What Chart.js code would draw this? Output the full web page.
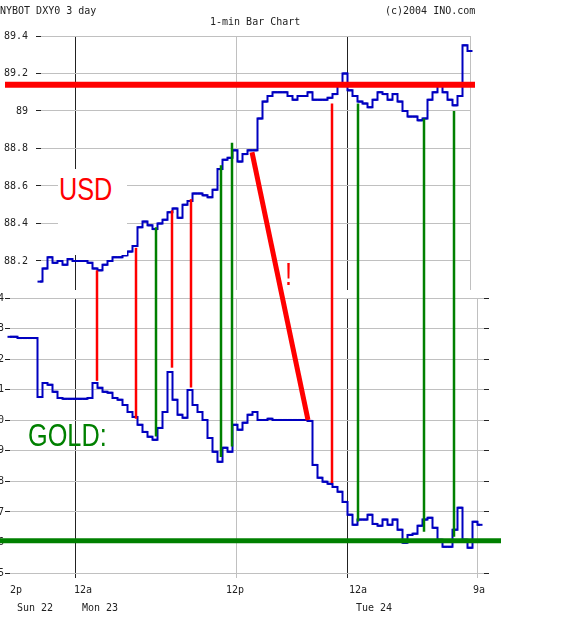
<!DOCTYPE html>
<html>
<head>
<meta charset="utf-8">
<script src="https://cdn.jsdelivr.net/npm/chart.js@4.4.0/dist/chart.umd.min.js"></script>
<style>
  html, body { margin: 0; padding: 0; background: #fff; }
  #wrap { position: relative; width: 576px; height: 633px; overflow: hidden; }
  canvas { position: absolute; left: 0; top: 0; }
  .txt { position: absolute; white-space: nowrap; font: 10px/12px "DejaVu Sans Mono", monospace; color: #222; }
  .big { position: absolute; white-space: nowrap; font: 32px/32px "Liberation Sans", Arial, sans-serif; transform: scaleX(0.79); transform-origin: 0 0; }
</style>
</head>
<body>
<div id="wrap">
  <canvas id="goldChart" width="576" height="633"></canvas>
  <canvas id="usdChart" width="576" height="633"></canvas>
  <div class="txt" style="left:0;top:5px">NYBOT DXY0 3 day</div>
  <div class="txt" style="left:210px;top:16px">1-min Bar Chart</div>
  <div class="txt" style="left:385px;top:5px">(c)2004 INO.com</div>
  <div style="position:absolute;left:58px;top:169px;width:69px;height:86px;background:#fff"></div>
  <div class="big" style="left:59px;top:173px;color:#ff0000">USD</div>
  <div class="big" style="left:28px;top:419px;color:#008000">GOLD:</div>
  <div class="big" style="left:285px;top:258px;color:#ff0000">!</div>
</div>
<script>
// x axis = bar slot index (one slot every few 1-min bars, trading gaps removed)
const usdStart = 5;
const usdClose = [88.14, 88.09, 88.16, 88.22, 88.19, 88.20, 88.18, 88.21, 88.20, 88.20,
  88.20, 88.19, 88.16, 88.15, 88.18, 88.20, 88.22, 88.22, 88.23, 88.25,
  88.28, 88.38, 88.41, 88.39, 88.37, 88.40, 88.42, 88.46, 88.48, 88.43,
  88.50, 88.52, 88.56, 88.56, 88.55, 88.54, 88.58, 88.69, 88.74, 88.75,
  88.79, 88.73, 88.77, 88.79, 88.79, 88.96, 89.05, 89.08, 89.10, 89.10,
  89.10, 89.08, 89.06, 89.08, 89.08, 89.10, 89.06, 89.06, 89.06, 89.07,
  89.09, 89.14, 89.20, 89.11, 89.08, 89.05, 89.04, 89.02, 89.06, 89.10,
  89.09, 89.06, 89.09, 89.05, 89.00, 88.97, 88.97, 88.95, 88.96, 89.06,
  89.10, 89.14, 89.10, 89.06, 89.03, 89.08, 89.35, 89.32];

const goldStart = 0;
const goldClose = [402.73, 402.73, 402.69, 402.69, 402.69, 402.69, 400.76, 401.22, 401.16, 400.93,
  400.73, 400.70, 400.70, 400.70, 400.70, 400.70, 400.73, 401.22, 401.06, 400.93,
  400.90, 400.73, 400.67, 400.50, 400.27, 400.11, 399.85, 399.62, 399.46, 399.36,
  399.75, 400.27, 401.58, 400.67, 400.18, 400.08, 400.99, 400.50, 400.27, 400.01,
  399.42, 398.97, 398.64, 399.10, 398.97, 399.85, 399.69, 399.92, 400.18, 400.27,
  400.01, 400.01, 400.05, 400.01, 400.01, 400.01, 400.01, 400.01, 400.01, 400.01,
  399.98, 398.54, 398.12, 397.99, 397.92, 397.82, 397.66, 397.33, 396.91, 396.58,
  396.75, 396.75, 396.91, 396.61, 396.55, 396.75, 396.58, 396.75, 396.42, 395.99,
  396.25, 396.29, 396.55, 396.75, 396.81, 396.48, 396.09, 395.86, 395.86, 396.42,
  397.14, 396.09, 395.83, 396.68, 396.58];

const usdTicks = [88.2, 88.4, 88.6, 88.8, 89, 89.2, 89.4];
const goldTicks = [395, 396, 397, 398, 399, 400, 401, 402, 403, 404];

const hourGrid = [13, 45.2, 67.4, 93.4];
const hourGridText = ['12a', '12p', '12a', '9a'];
const hourLabelAt = [1.2, 14.6, 45, 69.6, 93.8];
const hourLabels = ['2p', '12a', '12p', '12a', '9a'];
const dayLabelAt = [5, 18, 72.8];
const dayLabels = ['Sun 22', 'Mon 23', 'Tue 24'];

// hand-drawn annotations: USD end (top) and gold end (bottom)
const redX = [17.4, 25.2, 32.4, 36.2, 64.4];
const redUsd = [88.15, 88.27, 88.47, 88.53, 89.04];
const redGold = [401.29, 400.05, 401.72, 401.07, 397.95];
const greenX = [29.2, 42.2, 44.4, 69.6, 82.8, 88.8];
const greenUsd = [88.38, 88.71, 88.83, 89.04, 88.96, 89.00];
const greenGold = [399.47, 398.80, 399.14, 396.69, 396.35, 396.19];
const dropX = [48.4, 59.6];
const dropUsd = 88.78;
const dropGold = 400.01;
const usdLevel = 89.14;
const usdLevelX = [-1, 93];
const goldLevel = 396.06;
const goldLevelX = [-2, 98.2];
const strayDot = { x: 106.2, y: 399.78 };

Chart.defaults.font.family = '"DejaVu Sans Mono", monospace';
Chart.defaults.font.size = 10;
Chart.defaults.color = '#222';

const BLUE = '#0000c0';
const GRID = '#c0c0c0';

function setTicks(list) {
  return axis => { axis.ticks = list.map(v => ({ value: v })); };
}
function hourColor(ctx) {
  const k = hourGrid.indexOf(ctx.tick ? ctx.tick.value : -1);
  return hourGridText[k] === '12a' ? '#222' : GRID;
}

const goldChart = new Chart(document.getElementById('goldChart'), {
  type: 'line',
  data: {
    datasets: [{
      data: goldLevelX.map(x => ({ x, y: goldLevel })),
      borderColor: '#008000', borderWidth: 5, pointRadius: 0, clip: false, order: 0
    }, {
      type: 'scatter',
      data: [strayDot],
      backgroundColor: '#ff0000', borderColor: '#ff0000', pointRadius: 2, clip: false, order: 0
    }, {
      data: goldClose.map((v, k) => ({ x: goldStart + k, y: v })),
      borderColor: BLUE, borderWidth: 2, stepped: 'middle',
      pointStyle: 'line', pointRadius: 2.5, pointBorderWidth: 2, pointBorderColor: BLUE,
      clip: false, order: 1
    }]
  },
  options: {
    responsive: false, animation: false,
    layout: { padding: { left: 0, top: 298, right: 87, bottom: 15 } },
    plugins: { legend: { display: false }, tooltip: { enabled: false } },
    scales: {
      x: {
        type: 'linear', min: 0, max: 94.8, weight: 0,
        afterBuildTicks: setTicks(hourGrid),
        afterFit: s => { s.height = 0; },
        ticks: { display: false },
        grid: { color: hourColor, drawTicks: false },
        border: { display: false }
      },
      xh: {
        type: 'linear', position: 'bottom', min: 0, max: 94.8, weight: 1,
        afterBuildTicks: setTicks(hourLabelAt),
        afterFit: s => { s.height = 20; },
        ticks: { autoSkip: false, maxRotation: 0, padding: 6, callback: (v, i) => hourLabels[i] },
        grid: { display: false, drawTicks: false },
        border: { display: false }
      },
      xd: {
        type: 'linear', position: 'bottom', min: 0, max: 94.8, weight: 2,
        afterBuildTicks: setTicks(dayLabelAt),
        afterFit: s => { s.height = 20; },
        ticks: { autoSkip: false, maxRotation: 0, padding: 4, callback: (v, i) => dayLabels[i] },
        grid: { display: false, drawTicks: false },
        border: { display: false }
      },
      y: {
        position: 'left', min: 394.84, max: 404,
        afterBuildTicks: setTicks(goldTicks),
        afterFit: s => { s.width = 10; },
        ticks: { padding: 1, callback: v => String(v) },
        grid: { color: GRID, tickColor: '#222', tickLength: 5 },
        border: { display: false }
      },
      yr: {
        position: 'right', min: 394.84, max: 404,
        afterBuildTicks: setTicks(goldTicks),
        afterFit: s => { s.width = 5; },
        ticks: { display: false },
        grid: { drawOnChartArea: false, tickColor: '#222', tickLength: 5 },
        border: { display: false }
      }
    }
  }
});

const connectors = {
  id: 'connectors',
  afterDatasetsDraw(chart) {
    const xs = chart.scales.x, yu = chart.scales.y, yg = goldChart.scales.y;
    const ctx = chart.ctx;
    const seg = (x1, u, x2, g, color, w) => {
      ctx.beginPath();
      ctx.strokeStyle = color;
      ctx.lineWidth = w;
      ctx.moveTo(xs.getPixelForValue(x1), yu.getPixelForValue(u));
      ctx.lineTo(xs.getPixelForValue(x2), yg.getPixelForValue(g));
      ctx.stroke();
    };
    ctx.save();
    ctx.lineCap = 'butt';
    redX.forEach((x, k) => seg(x, redUsd[k], x, redGold[k], '#ff0000', 2.5));
    greenX.forEach((x, k) => seg(x, greenUsd[k], x, greenGold[k], '#008000', 2.5));
    seg(dropX[0], dropUsd, dropX[1], dropGold, '#ff0000', 5);
    ctx.restore();
  }
};

new Chart(document.getElementById('usdChart'), {
  type: 'line',
  data: {
    datasets: [{
      data: usdLevelX.map(x => ({ x, y: usdLevel })),
      borderColor: '#ff0000', borderWidth: 6, pointRadius: 0, clip: false, order: 0
    }, {
      data: usdClose.map((v, k) => ({ x: usdStart + k, y: v })),
      borderColor: BLUE, borderWidth: 2, stepped: 'middle',
      pointStyle: 'line', pointRadius: 2.5, pointBorderWidth: 2, pointBorderColor: BLUE,
      clip: false, order: 1
    }]
  },
  options: {
    responsive: false, animation: false,
    layout: { padding: { left: 0, top: 36, right: 106, bottom: 343 } },
    plugins: { legend: { display: false }, tooltip: { enabled: false } },
    scales: {
      x: {
        type: 'linear', min: 6.2, max: 92,
        afterBuildTicks: setTicks(hourGrid.slice(0, 3).concat([92])),
        afterFit: s => { s.height = 0; },
        ticks: { display: false },
        grid: { color: hourColor, drawTicks: false },
        border: { display: false }
      },
      y: {
        position: 'left', min: 88.0453, max: 89.4,
        afterBuildTicks: setTicks(usdTicks),
        afterFit: s => { s.width = 41; },
        ticks: { padding: 8, callback: v => String(+v.toFixed(1)) },
        grid: { color: GRID, tickColor: '#222', tickLength: 5 },
        border: { display: false }
      }
    }
  },
  plugins: [connectors]
});
</script>
</body>
</html>
